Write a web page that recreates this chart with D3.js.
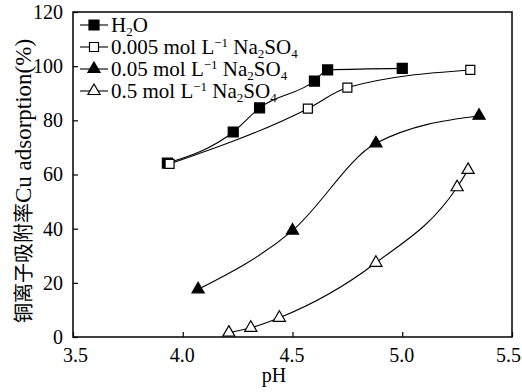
<!DOCTYPE html>
<html><head><meta charset="utf-8">
<script src="https://cdn.jsdelivr.net/npm/d3@7"></script>
<style>
body{margin:0;background:#fff}
svg text{font-family:"Liberation Serif","Times New Roman",serif;}
svg text.ytitle{font-family:"Liberation Serif","Noto Sans CJK SC",serif;}
</style></head>
<body>
<svg id="c" width="522" height="392"></svg>
<script>
// ---- data ----
const xTicks = [3.5, 4.0, 4.5, 5.0, 5.5];
const yTicks = [0, 20, 40, 60, 80, 100, 120];

const h2oPH  = [3.93, 4.23, 4.35, 4.60, 4.66, 5.00];
const h2oVal = [64.2, 75.7, 84.6, 94.5, 98.6, 99.2];

const s005PH  = [3.94, 4.57, 4.75, 5.31];
const s005Val = [63.9, 84.3, 92.1, 98.6];

const s05PH  = [4.07, 4.50, 4.88, 5.35];
const s05Val = [17.6, 39.3, 71.5, 81.7];

const s5PH  = [4.21, 4.31, 4.44, 4.88, 5.25, 5.30];
const s5Val = [1.6, 3.4, 7.1, 27.4, 55.3, 61.7];

// legend labels as [text, kind] parts
const legH2O  = [["H",""],["2","sub"],["O",""]];
const leg005  = [["0.005 mol L",""],["−1","sup"],[" Na",""],["2","sub"],["SO",""],["4","sub"]];
const leg05   = [["0.05 mol L",""],["−1","sup"],[" Na",""],["2","sub"],["SO",""],["4","sub"]];
const leg5    = [["0.5 mol L",""],["−1","sup"],[" Na",""],["2","sub"],["SO",""],["4","sub"]];

const yTitleCN = "铜离子吸附率";
const yTitleEN = "Cu adsorption(%)";
const xTitle = "pH";

// ---- chart ----
const svg = d3.select("#c");
const L = 73, R = 512, T = 12, B = 337;
const x = d3.scaleLinear().domain([3.5, 5.5]).range([L, R]);
const y = d3.scaleLinear().domain([0, 120]).range([B, T]);

const xa = svg.append("g").attr("transform", `translate(0,${B})`)
  .call(d3.axisBottom(x).tickValues(xTicks).tickFormat(d3.format(".1f"))
        .tickSizeInner(-5).tickSizeOuter(0).tickPadding(11));
const ya = svg.append("g").attr("transform", `translate(${L},0)`)
  .call(d3.axisLeft(y).tickValues(yTicks).tickFormat(d3.format("d"))
        .tickSizeInner(-5).tickSizeOuter(0).tickPadding(10));
[xa, ya].forEach(g => {
  g.attr("font-family", null).attr("font-size", null);
  g.selectAll("text").attr("font-size", 20).attr("fill", "#000");
  g.selectAll("line").attr("stroke", "#000").attr("stroke-width", 1.2);
  g.select(".domain").remove();
});
xa.selectAll(".tick text").attr("dx", (d, i) => i === 0 ? 2 : (i === xTicks.length - 1 ? -4 : -1));

svg.append("rect").attr("x", L).attr("y", T).attr("width", R - L).attr("height", B - T)
  .attr("fill", "none").attr("stroke", "#000").attr("stroke-width", 1.5);

const series = [
  {ph: h2oPH, val: h2oVal, sym: d3.symbolSquare, size: 100, fill: "#000", leg: legH2O},
  {ph: s005PH, val: s005Val, sym: d3.symbolSquare, size: 81, fill: "#fff", leg: leg005},
  {ph: s05PH, val: s05Val, sym: d3.symbolTriangle, size: 64, fill: "#000", leg: leg05},
  {ph: s5PH, val: s5Val, sym: d3.symbolTriangle, size: 64, fill: "#fff", leg: leg5}
];

const line = d3.line().x(d => x(d[0])).y(d => y(d[1])).curve(d3.curveMonotoneX);

series.forEach(s => {
  const pts = s.ph.map((p, i) => [p, s.val[i]]);
  svg.append("path").attr("d", line(pts)).attr("fill", "none").attr("stroke", "#000").attr("stroke-width", 1.1);
});
series.forEach(s => {
  const pts = s.ph.map((p, i) => [p, s.val[i]]);
  svg.selectAll(null).data(pts).enter().append("path")
    .attr("d", d3.symbol().type(s.sym).size(s.size))
    .attr("transform", d => `translate(${x(d[0])},${y(d[1])})`)
    .attr("fill", s.fill).attr("stroke", "#000").attr("stroke-width", 1.2);
});

// legend
const legY0 = 25, legDy = 22;
series.forEach((s, i) => {
  const ly = legY0 + i * legDy;
  svg.append("line").attr("x1", 80).attr("x2", 108).attr("y1", ly).attr("y2", ly)
    .attr("stroke", "#000").attr("stroke-width", 1.1);
  svg.append("path").attr("d", d3.symbol().type(s.sym).size(s.size)())
    .attr("transform", `translate(94,${ly})`)
    .attr("fill", s.fill).attr("stroke", "#000").attr("stroke-width", 1.2);
  const t = svg.append("text").attr("x", 111).attr("y", ly + 7)
    .attr("font-size", 21).attr("fill", "#000");
  s.leg.forEach(([txt, kind]) => {
    const ts = t.append("tspan").text(txt);
    if (kind === "sub") ts.attr("font-size", 13).attr("baseline-shift", "-30%");
    else if (kind === "sup") ts.attr("font-size", 13).attr("baseline-shift", "55%");
  });
});

// titles
svg.append("text").attr("x", 274).attr("y", 382).attr("text-anchor", "middle")
  .attr("font-size", 20).attr("fill", "#000").text(xTitle);
const yt = svg.append("text").attr("class", "ytitle").attr("transform", "translate(31,181) rotate(-90)")
  .attr("text-anchor", "middle").attr("fill", "#000");
yt.append("tspan").attr("font-size", 20).text(yTitleCN);
yt.append("tspan").attr("font-size", 23).text(yTitleEN);
</script>
</body></html>
